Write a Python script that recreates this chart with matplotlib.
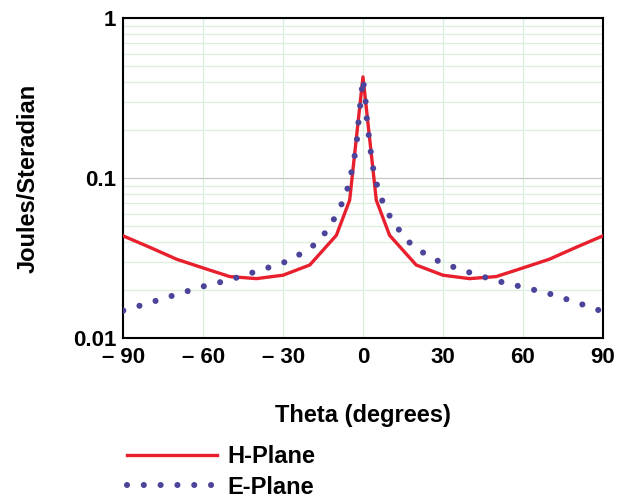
import numpy as np
import matplotlib.pyplot as plt
from matplotlib.ticker import FixedLocator, NullFormatter

plt.rcParams['font.family'] = ['Liberation Sans', 'DejaVu Sans']
plt.rcParams['font.weight'] = 'bold'
plt.rcParams['axes.labelweight'] = 'bold'

# H-plane (solid red)
h_theta = [-90, -80, -70, -60, -50, -40, -30, -20, -10, -5, 0,
           5, 10, 20, 30, 40, 50, 60, 70, 80, 90]
h_vals = [0.0436, 0.037, 0.0312, 0.0275, 0.0243, 0.0236, 0.0248, 0.0287, 0.044, 0.073, 0.43,
          0.073, 0.044, 0.0287, 0.0248, 0.0236, 0.0243, 0.0275, 0.0312, 0.037, 0.0436]

# E-plane (dotted blue)
e_theta = [-90, -80, -70, -60, -50, -40, -30, -20, -14, -10, -7, -5, -3.8, -2.5, -2, -1.4, -0.7, 0,
           1, 1.6, 2.5, 3.2, 4.3, 6, 8.5, 12.5, 17.7, 24, 30, 40, 50, 60, 70, 80, 90]
e_vals = [0.0149, 0.0167, 0.0188, 0.0211, 0.0232, 0.0262, 0.0296, 0.036, 0.046, 0.0587, 0.075, 0.095,
          0.122, 0.155, 0.198, 0.253, 0.324, 0.42,
          0.30, 0.218, 0.17, 0.133, 0.104, 0.082, 0.064, 0.050, 0.0393, 0.033, 0.0294, 0.0258,
          0.0229, 0.0209, 0.019, 0.0168, 0.0147]

xticks = [-90, -60, -30, 0, 30, 60, 90]
xlabels = ['\u2013 90', '\u2013 60', '\u2013 30', '0', '30', '60', '90']
yticks = [0.01, 0.1, 1]
ylabels = ['0.01', '0.1', '1']

fig = plt.figure(figsize=(6.21, 4.98), dpi=100)
ax = fig.add_axes([0.1986, 0.3207, 0.7718, 0.6426])

ax.set_yscale('log')
ax.set_xlim(-90, 90)
ax.set_ylim(0.01, 1)

# grid
minor = [m * d for d in (0.01, 0.1) for m in range(2, 10)]
ax.yaxis.set_minor_locator(FixedLocator(minor))
ax.yaxis.set_minor_formatter(NullFormatter())
ax.grid(which='minor', axis='y', color='#dcefdc', lw=0.9)
ax.grid(which='major', axis='y', color='#c8c8c8', lw=0.9)
ax.grid(which='major', axis='x', color='#dcefdc', lw=0.9)
ax.set_axisbelow(True)

ax.plot(h_theta, h_vals, color='#e8202e', lw=2.4, label='H-Plane', zorder=3)
ax.plot(e_theta, e_vals, color='#4b449a', lw=4.4, linestyle=(0, (0.001, 2.75)),
        dash_capstyle='round', label='E-Plane', zorder=4)

ax.set_xticks(xticks)
ax.set_xticklabels(xlabels)
ax.set_yticks(yticks)
ax.set_yticklabels(ylabels)
ax.tick_params(which='both', length=0, labelsize=16)
ax.tick_params(axis='x', pad=6)
ax.tick_params(axis='y', pad=5)

for s in ax.spines.values():
    s.set_linewidth(1.5)
    s.set_color('black')

ax.set_xlabel('Theta (degrees)', fontsize=17, labelpad=26)
ax.set_ylabel('Joules/Steradian', fontsize=17, labelpad=24)

leg = fig.legend(loc='upper left', bbox_to_anchor=(0.19, 0.125), frameon=False,
                 fontsize=17, handlelength=3.8, handletextpad=0.45, labelspacing=0.32,
                 borderaxespad=0)

plt.savefig('out.png', dpi=100)
plt.close()
